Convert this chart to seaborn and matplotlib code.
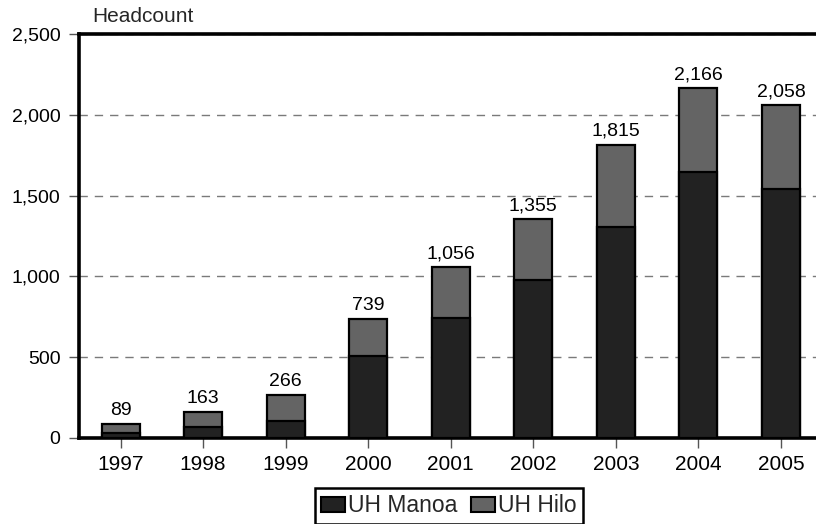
import matplotlib
matplotlib.use("Agg")
import matplotlib.pyplot as plt
import seaborn as sns
import pandas as pd
from matplotlib.patches import Patch

years = ["1997", "1998", "1999", "2000", "2001", "2002", "2003", "2004", "2005"]
totals = [89, 163, 266, 739, 1056, 1355, 1815, 2166, 2058]
manoa = [30, 70, 103, 510, 741, 976, 1304, 1646, 1539]
hilo = [t - m for t, m in zip(totals, manoa)]
yticks = [0, 500, 1000, 1500, 2000, 2500]

sns.set_theme(style="white")
plt.rcParams["font.family"] = ["Liberation Sans", "DejaVu Sans"]

MANOA_C = "#222222"
HILO_C = "#646464"

df = pd.DataFrame({"year": years, "total": totals, "manoa": manoa, "hilo": hilo})

W, H = 816, 524
fig = plt.figure(figsize=(W / 100, H / 100), dpi=100)
ax = fig.add_axes([78.5 / W, (H - 438) / H, (W - 78.5) / W, 404 / H])

sns.barplot(data=df, x="year", y="total", color=HILO_C, saturation=1, width=0.46,
            edgecolor="black", linewidth=1.6, ax=ax, zorder=3)
sns.barplot(data=df, x="year", y="manoa", color=MANOA_C, saturation=1, width=0.46,
            edgecolor="black", linewidth=1.6, ax=ax, zorder=3)

ax.bar_label(ax.containers[0], labels=[f"{v:,}" for v in totals], padding=3.5,
             fontsize=14, color="black")

ax.set_xlim(-0.509, 8.425)
ax.set_ylim(0, 2500)
ax.set_yticks(yticks)
ax.set_yticklabels([f"{v:,}" for v in yticks])
ax.set_xlabel("")
ax.set_ylabel("")

ax.yaxis.grid(True, linestyle=(0, (6, 5)), color="#7a7a7a", linewidth=1.0, zorder=0)
ax.xaxis.grid(False)
ax.set_axisbelow(True)

for s in ["left", "top", "bottom"]:
    ax.spines[s].set_visible(True)
    ax.spines[s].set_color("black")
    ax.spines[s].set_linewidth(2.6)
ax.spines["right"].set_visible(False)

ax.tick_params(axis="both", which="both", direction="out", length=7, width=1,
               color="#555555", labelcolor="black", left=True, bottom=True)
ax.tick_params(axis="y", labelsize=14, pad=6)
ax.tick_params(axis="x", labelsize=15, pad=5)

fig.text(92 / W, 1 - 21.7 / H, "Headcount", fontsize=15, ha="left", va="baseline")

handles = [Patch(facecolor=MANOA_C, edgecolor="black", linewidth=1.5, label="UH Manoa"),
           Patch(facecolor=HILO_C, edgecolor="black", linewidth=1.5, label="UH Hilo")]
leg = fig.legend(handles=handles, loc="center", bbox_to_anchor=(449 / W, 1 - 506 / H),
                 ncol=2, fontsize=16.5, frameon=True, fancybox=False, handlelength=1.05,
                 handleheight=0.65, handletextpad=0.12, columnspacing=0.6,
                 borderpad=0.28, borderaxespad=0)
leg.get_frame().set_edgecolor("black")
leg.get_frame().set_linewidth(1.8)
leg.get_frame().set_alpha(1)

fig.savefig("out.png", dpi=100)
